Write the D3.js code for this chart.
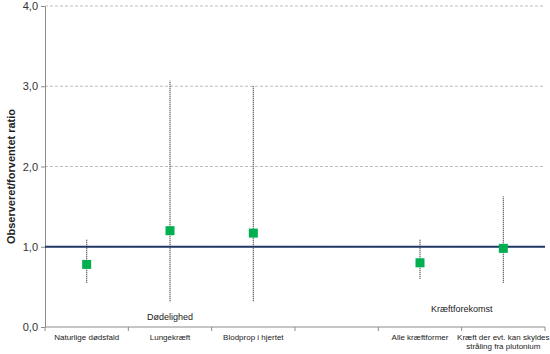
<!DOCTYPE html>
<html>
<head>
<meta charset="utf-8">
<script src="https://cdn.jsdelivr.net/npm/d3@7"></script>
<style>
  body { margin: 0; background: #fff; }
  svg { display: block; font-family: Arial, "Liberation Sans", sans-serif; }
</style>
</head>
<body>
<svg width="550" height="354"></svg>
<script>
// kategorier (tom plads mellem de to grupper)
const kategorier = ['Naturlige dødsfald', 'Lungekræft', 'Blodprop i hjertet', '', 'Alle kræftformer', 'Kræft der evt. kan skyldes|stråling fra plutonium'];
const ratio = [0.78, 1.2, 1.17, null, 0.8, 0.98];
const nedre = [0.55, 0.32, 0.32, null, 0.6, 0.55];
const oevre = [1.1, 3.07, 3.0, null, 1.1, 1.63];
const yTicks = [0, 1, 2, 3, 4];
const grupper = [
  { navn: 'Dødelighed', kat: 1, niveau: 0.12 },
  { navn: 'Kræftforekomst', kat: 4.5, niveau: 0.22 }
];
const reference = 1.0;

const svg = d3.select('svg');
const m = { top: 6, right: 5, bottom: 27, left: 45 };
const W = 550, H = 354;

const x = d3.scaleBand()
  .domain(d3.range(kategorier.length))
  .range([m.left, W - m.right]);
const y = d3.scaleLinear().domain([0, 4]).range([H - m.bottom, m.top]);

// gitterlinjer
svg.append('g')
  .selectAll('line')
  .data(yTicks.filter(d => d > 0))
  .join('line')
  .attr('x1', m.left).attr('x2', W - m.right)
  .attr('y1', d => y(d)).attr('y2', d => y(d))
  .attr('stroke', '#bdbdbd')
  .attr('stroke-dasharray', '3,2');

// y-akse
const yAxis = svg.append('g')
  .attr('transform', `translate(${m.left},0)`)
  .call(d3.axisLeft(y).tickValues(yTicks).tickSize(4).tickSizeOuter(0)
    .tickFormat(d => d3.format('.1f')(d).replace('.', ',')));
yAxis.select('.domain').attr('stroke', '#8c8c8c');
yAxis.selectAll('.tick line').attr('stroke', '#8c8c8c');
yAxis.selectAll('text').attr('font-size', 11).attr('fill', '#333');

// x-akse
const xg = svg.append('g').attr('transform', `translate(0,${y(0)})`);
xg.append('line')
  .attr('x1', m.left).attr('x2', W - m.right)
  .attr('stroke', '#8c8c8c');
xg.selectAll('.grænse')
  .data(d3.range(kategorier.length + 1))
  .join('line')
  .attr('x1', i => m.left + i * x.step())
  .attr('x2', i => m.left + i * x.step())
  .attr('y1', 0).attr('y2', 4)
  .attr('stroke', '#8c8c8c');

// kategoritekster
xg.selectAll('text.kat')
  .data(kategorier)
  .join('text')
  .attr('class', 'kat')
  .attr('x', (d, i) => x(i) + x.bandwidth() / 2)
  .attr('text-anchor', 'middle')
  .attr('font-size', 8)
  .attr('fill', '#222')
  .each(function(d) {
    d.split('|').forEach((linje, j) => {
      d3.select(this).append('tspan')
        .attr('x', d3.select(this).attr('x'))
        .attr('y', 13 + j * 9)
        .text(linje);
    });
  });

// referencelinje
svg.append('line')
  .attr('x1', m.left).attr('x2', W - m.right)
  .attr('y1', y(reference)).attr('y2', y(reference))
  .attr('stroke', '#1f3864')
  .attr('stroke-width', 2);

const data = kategorier.map((k, i) => ({ i, v: ratio[i], lo: nedre[i], hi: oevre[i] }))
  .filter(d => d.v !== null);

// konfidensintervaller
svg.append('g')
  .selectAll('line')
  .data(data)
  .join('line')
  .attr('x1', d => x(d.i) + x.bandwidth() / 2)
  .attr('x2', d => x(d.i) + x.bandwidth() / 2)
  .attr('y1', d => y(d.lo)).attr('y2', d => y(d.hi))
  .attr('stroke', '#333')
  .attr('stroke-width', 1.2)
  .attr('stroke-dasharray', '1,1');

// punkter
svg.append('g')
  .selectAll('rect')
  .data(data)
  .join('rect')
  .attr('x', d => x(d.i) + x.bandwidth() / 2 - 4.5)
  .attr('y', d => y(d.v) - 4.5)
  .attr('width', 9).attr('height', 9)
  .attr('fill', '#00b050');

// gruppetekster
svg.append('g')
  .selectAll('text')
  .data(grupper)
  .join('text')
  .attr('x', d => x(0) + (d.kat + 0.5) * x.step())
  .attr('y', d => y(d.niveau) + 3)
  .attr('text-anchor', 'middle')
  .attr('font-size', 9)
  .attr('fill', '#222')
  .text(d => d.navn);

// aksetitel
svg.append('text')
  .attr('transform', `translate(15,${(m.top + y(0)) / 2 + 10}) rotate(-90)`)
  .attr('text-anchor', 'middle')
  .attr('font-size', 11)
  .attr('font-weight', 'bold')
  .attr('fill', '#222')
  .text('Observeret/forventet ratio');
</script>
</body>
</html>
